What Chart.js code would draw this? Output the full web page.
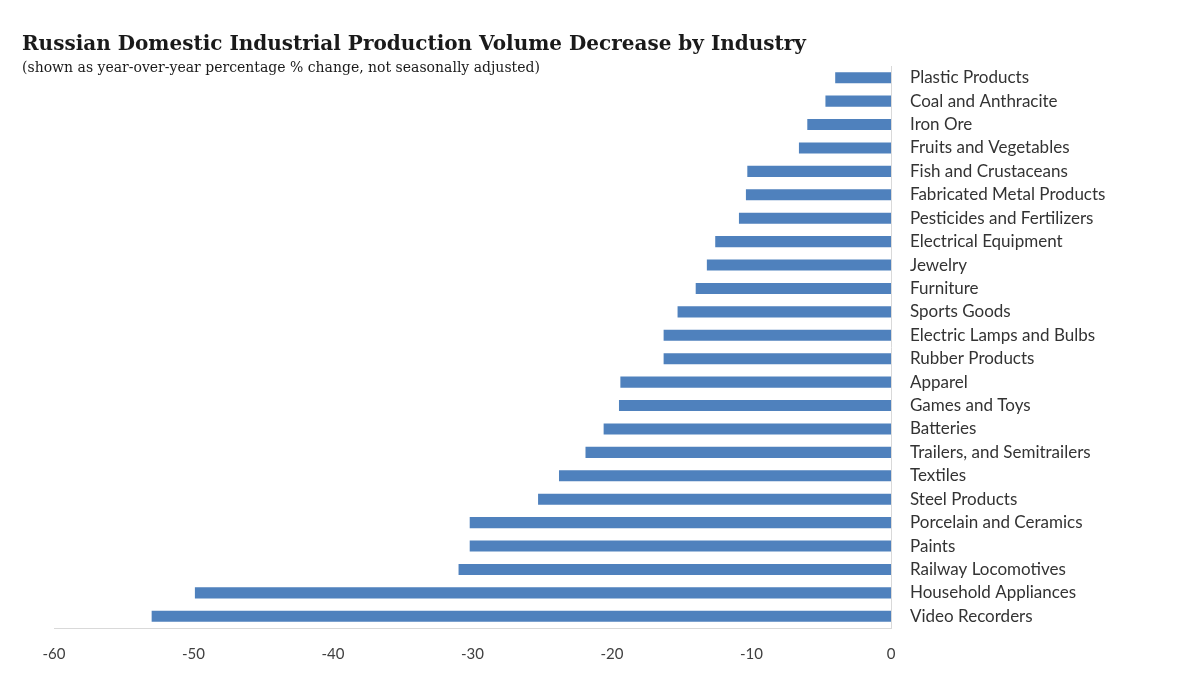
<!DOCTYPE html>
<html>
<head>
<meta charset="utf-8">
<script src="https://cdn.jsdelivr.net/npm/chart.js@4.4.1/dist/chart.umd.min.js"></script>
<style>
  html, body { margin: 0; padding: 0; background: #ffffff; }
  #wrap { position: relative; width: 1200px; height: 677px; }
  #title {
    position: absolute; left: 22px; top: 31px;
    font-family: "DejaVu Serif", serif; font-weight: bold; font-size: 19px;
    color: #1a1a1a; white-space: nowrap;
  }
  #subtitle {
    position: absolute; left: 22px; top: 59px;
    font-family: "DejaVu Serif", serif; font-size: 12px;
    color: #1a1a1a; white-space: nowrap;
  }
</style>
</head>
<body>
<div id="wrap">
  <canvas id="bar-chart" width="1200" height="677"></canvas>
  <div id="title">Russian Domestic Industrial Production Volume Decrease by Industry</div>
  <div id="subtitle">(shown as year-over-year percentage % change, not seasonally adjusted)</div>
</div>
<script>
// categories, top to bottom
const industries = [
    'Plastic Products',
    'Coal and Anthracite',
    'Iron Ore',
    'Fruits and Vegetables',
    'Fish and Crustaceans',
    'Fabricated Metal Products',
    'Pesticides and Fertilizers',
    'Electrical Equipment',
    'Jewelry',
    'Furniture',
    'Sports Goods',
    'Electric Lamps and Bulbs',
    'Rubber Products',
    'Apparel',
    'Games and Toys',
    'Batteries',
    'Trailers, and Semitrailers',
    'Textiles',
    'Steel Products',
    'Porcelain and Ceramics',
    'Paints',
    'Railway Locomotives',
    'Household Appliances',
    'Video Recorders'
];

// year-over-year % change
const pctChange = [
    -4.0, -4.7, -6.0, -6.6, -10.3, -10.4, -10.9, -12.6,
    -13.2, -14.0, -15.3, -16.3, -16.3, -19.4, -19.5, -20.6,
    -21.9, -23.8, -25.3, -30.2, -30.2, -31.0, -49.9, -53.0
];

const xTicks = [-60, -50, -40, -30, -20, -10, 0];

// squeeze the header text to the width it has in the original
const fitWidth = (id, target) => {
    const el = document.getElementById(id);
    const w = el.getBoundingClientRect().width;
    const size = parseFloat(getComputedStyle(el).fontSize);
    el.style.fontSize = (size * target / w).toFixed(2) + 'px';
};
fitWidth('title', 784);
fitWidth('subtitle', 518);

const labelFont = 'Lato, "Open Sans", sans-serif';

new Chart(document.getElementById('bar-chart'), {
    type: 'bar',
    data: {
        labels: industries,
        datasets: [{
            label: '% change',
            data: pctChange,
            backgroundColor: '#4f81bd',
            borderWidth: 0,
            barPercentage: 0.47,
            categoryPercentage: 1.0
        }]
    },
    options: {
        indexAxis: 'y',
        responsive: false,
        animation: false,
        layout: {
            padding: { top: 66, left: 54, right: 0, bottom: 0 }
        },
        plugins: {
            legend: { display: false },
            tooltip: { enabled: false }
        },
        scales: {
            x: {
                min: -60,
                max: 0,
                afterBuildTicks: (scale) => {
                    scale.ticks = xTicks.map(v => ({ value: v }));
                },
                grid: { display: false, drawTicks: false },
                border: { color: '#d9d9d9', width: 1 },
                ticks: {
                    color: '#404040',
                    padding: 17,
                    font: { family: labelFont, size: 15 }
                },
                afterFit: (scale) => {
                    scale.height = 49;
                }
            },
            y: {
                position: 'right',
                grid: { display: false, drawTicks: false },
                border: { color: '#d9d9d9', width: 1 },
                ticks: {
                    color: '#333333',
                    padding: 19,
                    autoSkip: false,
                    font: { family: labelFont, size: 17 }
                },
                afterFit: (scale) => {
                    scale.width = 309;
                }
            }
        }
    }
});
</script>
</body>
</html>
